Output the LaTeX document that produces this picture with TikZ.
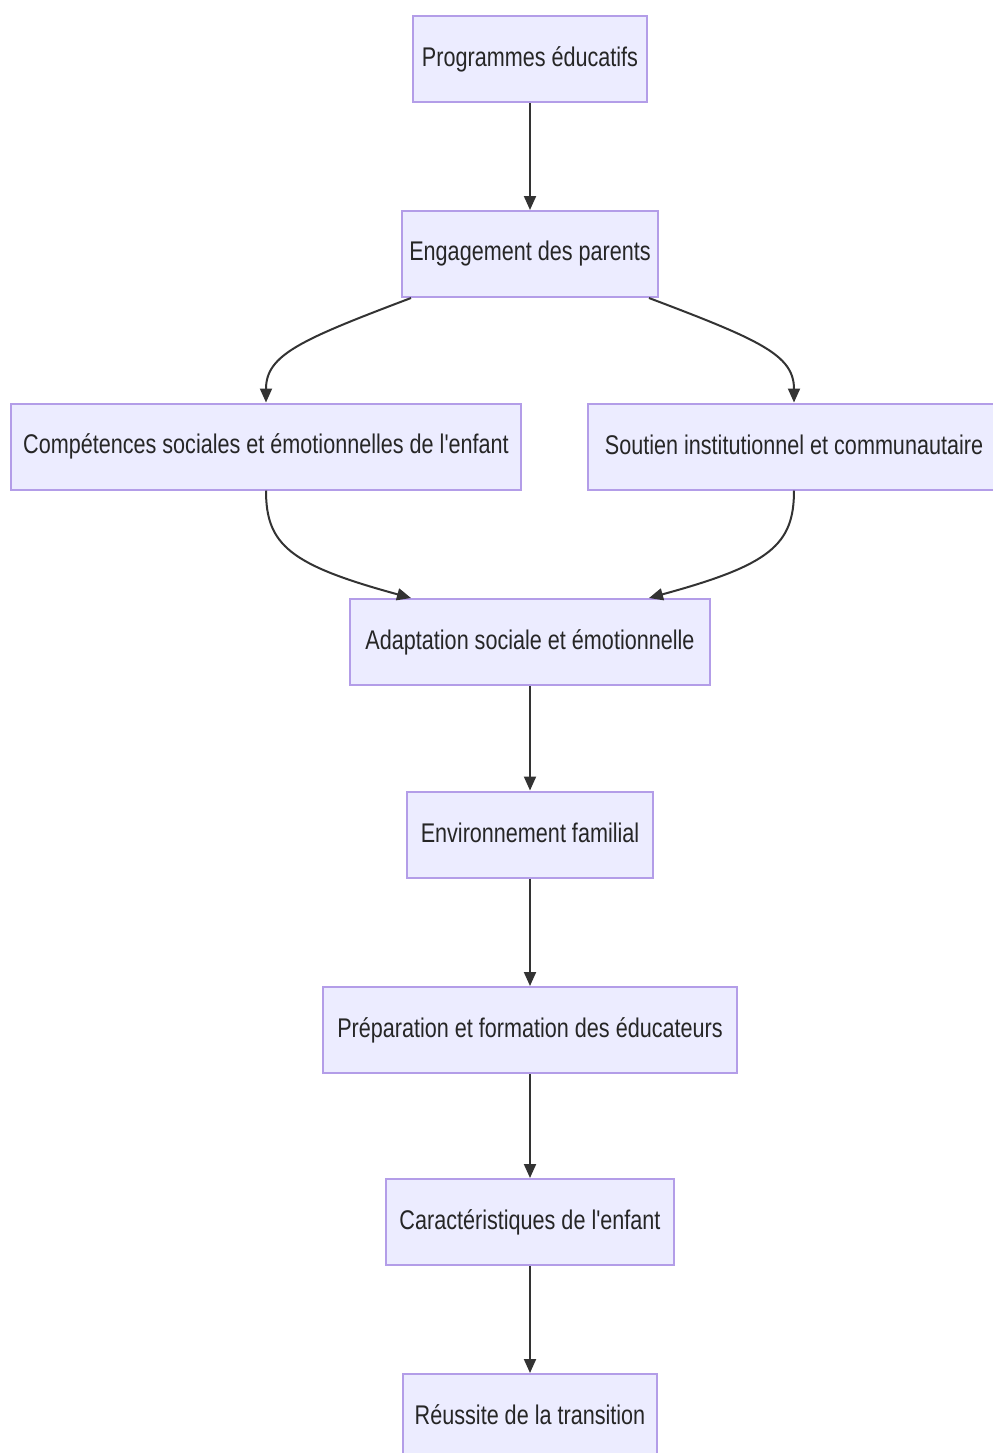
\documentclass[tikz,border=0pt]{standalone}
\usepackage{fontspec}
\setmainfont[FakeStretch=0.8,Ligatures=TeXOff]{Liberation Sans}
\usetikzlibrary{arrows.meta}
\definecolor{boxfill}{HTML}{ECECFF}
\definecolor{boxline}{HTML}{B39DE8}
\definecolor{edge}{HTML}{333333}
\newcommand{\lbl}[1]{\raisebox{2pt}{#1}}
\begin{document}
\begin{tikzpicture}[x=0.5pt,y=-0.5pt,
  box/.style={draw=boxline,fill=boxfill,line width=1pt,inner sep=0pt,
    minimum height=43pt,font=\fontsize{13.5}{15}\selectfont,text=black!85},
  conn/.style={draw=edge,line width=1pt,-{Triangle[length=7pt,width=6pt]}}]
\useasboundingbox (0,0) rectangle (992,1453);
\node[box,minimum width=117pt] (a) at (530,59) {\lbl{Programmes éducatifs}};
\node[box,minimum width=128pt] (b) at (530,254) {\lbl{Engagement des parents}};
\node[box,minimum width=255pt] (c) at (266,446.5) {\lbl{Compétences sociales et émotionnelles de l'enfant}};
\node[box,minimum width=206pt] (d) at (794,446.5) {\lbl{Soutien institutionnel et communautaire}};
\node[box,minimum width=180pt] (e) at (530,642) {\lbl{Adaptation sociale et émotionnelle}};
\node[box,minimum width=123pt] (f) at (530,834.5) {\lbl{Environnement familial}};
\node[box,minimum width=207pt] (g) at (530,1030) {\lbl{Préparation et formation des éducateurs}};
\node[box,minimum width=144pt] (h) at (530,1222) {\lbl{Caractéristiques de l'enfant}};
\node[box,minimum width=127pt] (i) at (530,1417) {\lbl{Réussite de la transition}};
\draw[conn] (a.south) -- (b.north);
\draw[conn] ([xshift=5pt]b.south west) .. controls (300,340) and (266,355) .. (c.north);
\draw[conn] ([xshift=-5pt]b.south east) .. controls (760,340) and (794,355) .. (d.north);
\draw[conn] (c.south) .. controls (266,545) and (290,565) .. ([xshift=31pt]e.north west);
\draw[conn] (d.south) .. controls (794,545) and (770,565) .. ([xshift=-31pt]e.north east);
\draw[conn] (e.south) -- (f.north);
\draw[conn] (f.south) -- (g.north);
\draw[conn] (g.south) -- (h.north);
\draw[conn] (h.south) -- (i.north);
\end{tikzpicture}
\end{document}
